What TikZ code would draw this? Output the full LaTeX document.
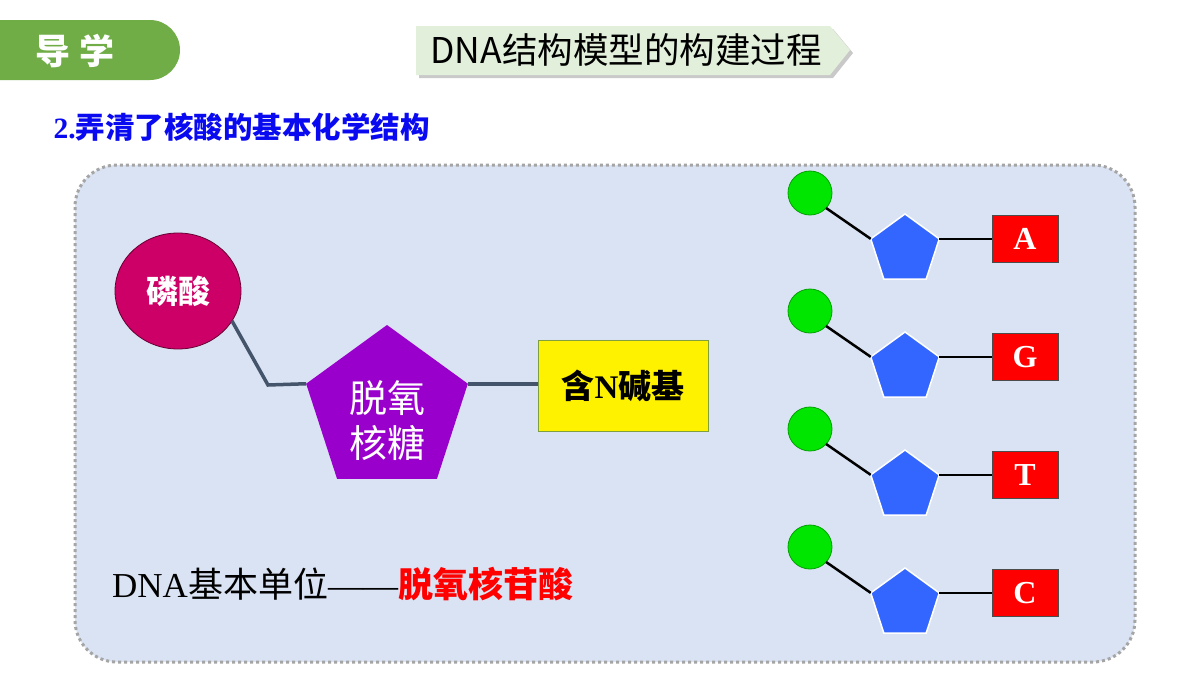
\documentclass[tikz,border=0pt]{standalone}
\usepackage{fontspec}
\setmainfont{Liberation Serif}
\newfontfamily\cjk{Noto Sans CJK SC}
\usetikzlibrary{shapes.geometric}
\definecolor{banner}{HTML}{70AD47}
\definecolor{titlebg}{HTML}{E2EFDA}
\definecolor{panel}{HTML}{DAE3F3}
\definecolor{panelborder}{HTML}{A5A5A5}
\definecolor{phos}{HTML}{CC0066}
\definecolor{sugar}{HTML}{9900CC}
\definecolor{conn}{HTML}{44546A}
\definecolor{ball}{HTML}{00E600}
\definecolor{balledge}{HTML}{00A000}
\definecolor{pent}{HTML}{3366FF}
\definecolor{subblue}{HTML}{0A0AF0}
\definecolor{baseedge}{HTML}{7F9F3F}
\newcommand\zh[1]{{\cjk #1}}
\begin{document}
\begin{tikzpicture}[x=1pt,y=-1pt,
  conline/.style={draw=conn,line width=3.5pt},
  blkline/.style={draw=black,line width=2.5pt},
  ballnode/.style={circle,fill=ball,draw=balledge,line width=0.8pt,minimum size=44,inner sep=0,outer sep=0},
  pentnode/.style={regular polygon,regular polygon sides=5,fill=pent,draw=white,line width=1.5pt,minimum size=72,inner sep=0,outer sep=0},
  letterbox/.style={rectangle,fill=red,draw=black!70,line width=0.8pt,minimum width=66,minimum height=47,inner sep=0,outer sep=0,text=white,font=\fontsize{32}{34}\selectfont\bfseries}
]
\useasboundingbox (0,0) rectangle (1200,675);
\fill[white] (0,0) rectangle (1200,675);
% banner
\fill[banner] (0,20) -- (150,20) arc[start angle=90,end angle=-90,radius=30pt] -- (0,80) -- cycle;
\node[text=white,font=\fontsize{35}{38}\selectfont\bfseries] (guide) at (75,51) {\zh{导\hspace{10pt}学}};
% title arrow
\fill[black!35,opacity=0.6] (419,29) -- (833,29) -- (853,53) -- (833,78) -- (419,78) -- cycle;
\fill[titlebg] (416,26) -- (830,26) -- (850,50) -- (830,75) -- (416,75) -- cycle;
\node[font=\fontsize{35.5}{40}\selectfont] (title) at (626,50) {\zh{DNA结构模型的构建过程}};
% subtitle
\node[anchor=west,text=subblue,font=\fontsize{29.5}{32}\selectfont\bfseries] (sub) at (50,127) {2.\zh{弄清了核酸的基本化学结构}};
% panel
\draw[fill=panel,draw=panelborder,line width=3pt,dash pattern=on 3pt off 3pt,rounded corners=42pt] (75,165) rectangle (1135,662);
% phosphate
\node[ellipse,fill=phos,draw=phos!50!black,line width=0.8pt,minimum width=126,minimum height=116,inner sep=0,outer sep=0,text=white,font=\fontsize{32}{34}\selectfont\bfseries] (phos) at (178,291) {\zh{磷酸}};
% sugar
\node[regular polygon,regular polygon sides=5,fill=sugar,minimum size=170,inner sep=0,outer sep=0] (sugar) at (387,410) {};
\node[text=white,align=center,font=\fontsize{38}{45}\selectfont] (sugartext) at (387,421) {\zh{脱氧}\\\zh{核糖}};
% base
\node[rectangle,fill=yellow,draw=baseedge,line width=1pt,minimum width=170,minimum height=91,inner sep=0,outer sep=0,font=\fontsize{33}{36}\selectfont\bfseries] (base) at (623,385.5) {\zh{含}N\zh{碱基}};
\coordinate (bend) at (268,385);
\draw[conline] (phos.-29) -- (bend) -- (sugar.corner 2);
\draw[conline,line width=4pt] (sugar.corner 5) -- (sugar.corner 5 -| base.west);
% right column
\foreach \i/\l in {0/A,1/G,2/T,3/C}{
  \node[ballnode] (ball\i) at (810,193+118*\i) {};
  \node[pentnode] (pent\i) at (905,250+118*\i) {};
  \node[letterbox] (box\i) at (1025,239+118*\i) {\l};
  \draw[blkline] (ball\i.-43) -- (pent\i.corner 2);
  \draw[blkline] (pent\i.corner 5) -- (pent\i.corner 5 -| box\i.west);
}
% bottom text
\node[anchor=base west,inner sep=0,font=\fontsize{35}{38}\selectfont] (unit) at (112,597) {DNA\zh{基本单位}——};
\node[anchor=base west,inner sep=0,text=red,font=\fontsize{35}{38}\selectfont\bfseries] (nuc) at (unit.base east) {\zh{脱氧核苷酸}};
\end{tikzpicture}
\end{document}
